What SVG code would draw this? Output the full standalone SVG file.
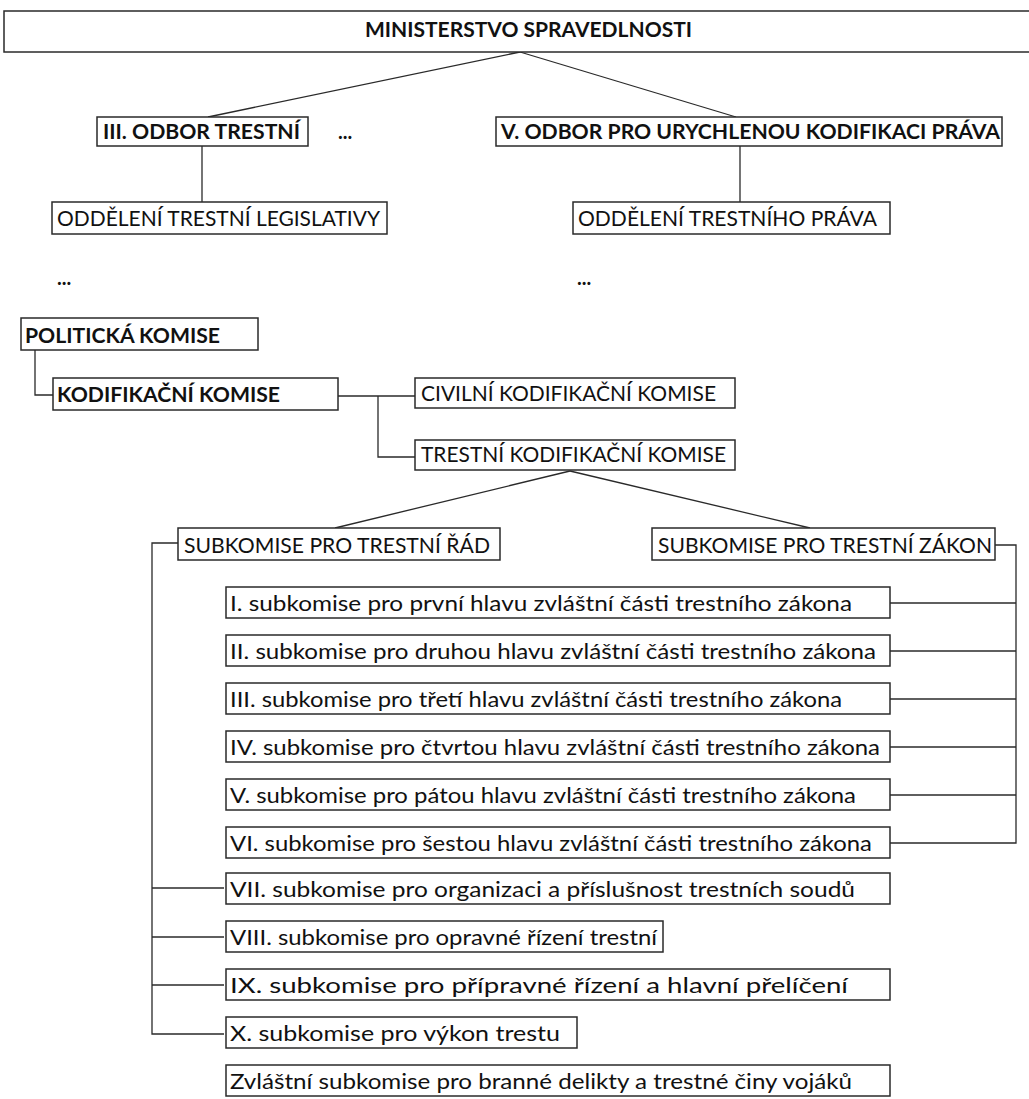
<svg xmlns="http://www.w3.org/2000/svg" width="1029" height="1099" viewBox="0 0 1029 1099">
<style>
.box{fill:#fff;stroke:#2a2a2a;stroke-width:1.5}
.t{font-family:Lato,"Open Sans","Liberation Sans",sans-serif;font-size:22px;fill:#111}
.b{font-weight:bold;font-size:20px}
.ln{stroke:#2a2a2a;stroke-width:1.3;fill:none}
</style>
<rect width="1029" height="1099" fill="#fff"/>
<g id="connectors">
<line class="ln" x1="520" y1="52" x2="208" y2="117"/>
<line class="ln" x1="520" y1="52" x2="736" y2="117"/>
<line class="ln" x1="202" y1="146" x2="202" y2="202"/>
<line class="ln" x1="740" y1="146" x2="740" y2="202"/>
<polyline class="ln" points="35,350 35,395 53,395"/>
<line class="ln" x1="338" y1="396" x2="415" y2="396"/>
<polyline class="ln" points="378,396 378,457 415,457"/>
<line class="ln" x1="570" y1="471" x2="335" y2="528"/>
<line class="ln" x1="570" y1="471" x2="810" y2="528"/>
<polyline class="ln" points="178,543 152,543 152,1034 224,1034"/>
<line class="ln" x1="152" y1="888" x2="224" y2="888"/>
<line class="ln" x1="152" y1="937" x2="224" y2="937"/>
<line class="ln" x1="152" y1="985" x2="224" y2="985"/>
<polyline class="ln" points="995,545 1016,545 1016,843 890,843"/>
<line class="ln" x1="890" y1="603" x2="1016" y2="603"/>
<line class="ln" x1="890" y1="651" x2="1016" y2="651"/>
<line class="ln" x1="890" y1="699" x2="1016" y2="699"/>
<line class="ln" x1="890" y1="747" x2="1016" y2="747"/>
<line class="ln" x1="890" y1="795" x2="1016" y2="795"/>
</g>
<g id="ministerstvo"><rect class="box" x="4" y="11" width="1030" height="41"/><text class="t b" x="365" y="37" textLength="327" lengthAdjust="spacingAndGlyphs">MINISTERSTVO SPRAVEDLNOSTI</text></g>
<g id="odbor3"><rect class="box" x="97" y="117" width="211" height="29"/><text class="t b" x="103" y="139" textLength="197" lengthAdjust="spacingAndGlyphs">III. ODBOR TRESTNÍ</text></g>
<g id="dots1"><text class="t b" x="338" y="139">...</text></g>
<g id="odbor5"><rect class="box" x="496" y="117" width="506" height="29"/><text class="t b" x="501" y="139" textLength="499" lengthAdjust="spacingAndGlyphs">V. ODBOR PRO URYCHLENOU KODIFIKACI PRÁVA</text></g>
<g id="oddeleni-leg"><rect class="box" x="52" y="202" width="335" height="32"/><text class="t" x="57" y="226" textLength="323" lengthAdjust="spacingAndGlyphs">ODDĚLENÍ TRESTNÍ LEGISLATIVY</text></g>
<g id="oddeleni-tp"><rect class="box" x="573" y="202" width="317" height="32"/><text class="t" x="578" y="226" textLength="299" lengthAdjust="spacingAndGlyphs">ODDĚLENÍ TRESTNÍHO PRÁVA</text></g>
<g id="dots2"><text class="t b" x="57" y="285">...</text></g>
<g id="dots3"><text class="t b" x="577" y="285">...</text></g>
<g id="politicka"><rect class="box" x="21" y="318" width="237" height="32"/><text class="t b" x="25" y="343" textLength="195" lengthAdjust="spacingAndGlyphs">POLITICKÁ KOMISE</text></g>
<g id="kodifikacni"><rect class="box" x="53" y="378" width="285" height="32"/><text class="t b" x="57" y="402" textLength="223" lengthAdjust="spacingAndGlyphs">KODIFIKAČNÍ KOMISE</text></g>
<g id="civilni"><rect class="box" x="415" y="378" width="320" height="30"/><text class="t" x="421" y="401" textLength="295" lengthAdjust="spacingAndGlyphs">CIVILNÍ KODIFIKAČNÍ KOMISE</text></g>
<g id="trestni-kk"><rect class="box" x="415" y="440" width="320" height="30"/><text class="t" x="421" y="462" textLength="305" lengthAdjust="spacingAndGlyphs">TRESTNÍ KODIFIKAČNÍ KOMISE</text></g>
<g id="sub-rad"><rect class="box" x="178" y="528" width="322" height="32"/><text class="t" x="184" y="553" textLength="306" lengthAdjust="spacingAndGlyphs">SUBKOMISE PRO TRESTNÍ ŘÁD</text></g>
<g id="sub-zakon"><rect class="box" x="652" y="528" width="343" height="32"/><text class="t" x="658" y="553" textLength="334" lengthAdjust="spacingAndGlyphs">SUBKOMISE PRO TRESTNÍ ZÁKON</text></g>
<g id="s1"><rect class="box" x="226" y="587" width="664" height="31"/><text class="t" x="230" y="611" textLength="622" lengthAdjust="spacingAndGlyphs">I. subkomise pro první hlavu zvláštní části trestního zákona</text></g>
<g id="s2"><rect class="box" x="226" y="635" width="664" height="31"/><text class="t" x="230" y="659" textLength="646" lengthAdjust="spacingAndGlyphs">II. subkomise pro druhou hlavu zvláštní části trestního zákona</text></g>
<g id="s3"><rect class="box" x="226" y="683" width="664" height="31"/><text class="t" x="230" y="707" textLength="612" lengthAdjust="spacingAndGlyphs">III. subkomise pro třetí hlavu zvláštní části trestního zákona</text></g>
<g id="s4"><rect class="box" x="226" y="731" width="664" height="31"/><text class="t" x="230" y="755" textLength="650" lengthAdjust="spacingAndGlyphs">IV. subkomise pro čtvrtou hlavu zvláštní části trestního zákona</text></g>
<g id="s5"><rect class="box" x="226" y="779" width="664" height="31"/><text class="t" x="230" y="803" textLength="626" lengthAdjust="spacingAndGlyphs">V. subkomise pro pátou hlavu zvláštní části trestního zákona</text></g>
<g id="s6"><rect class="box" x="226" y="827" width="664" height="31"/><text class="t" x="230" y="851" textLength="642" lengthAdjust="spacingAndGlyphs">VI. subkomise pro šestou hlavu zvláštní části trestního zákona</text></g>
<g id="s7"><rect class="box" x="226" y="873" width="664" height="31"/><text class="t" x="230" y="897" textLength="625" lengthAdjust="spacingAndGlyphs">VII. subkomise pro organizaci a příslušnost trestních soudů</text></g>
<g id="s8"><rect class="box" x="226" y="921" width="437" height="31"/><text class="t" x="230" y="945" textLength="427" lengthAdjust="spacingAndGlyphs">VIII. subkomise pro opravné řízení trestní</text></g>
<g id="s9"><rect class="box" x="226" y="969" width="664" height="31"/><text class="t" x="230" y="993" textLength="618" lengthAdjust="spacingAndGlyphs">IX. subkomise pro přípravné řízení a hlavní přelíčení</text></g>
<g id="s10"><rect class="box" x="226" y="1017" width="351" height="31"/><text class="t" x="230" y="1041" textLength="330" lengthAdjust="spacingAndGlyphs">X. subkomise pro výkon trestu</text></g>
<g id="s11"><rect class="box" x="226" y="1065" width="664" height="31"/><text class="t" x="230" y="1089" textLength="622" lengthAdjust="spacingAndGlyphs">Zvláštní subkomise pro branné delikty a trestné činy vojáků</text></g>
</svg>
